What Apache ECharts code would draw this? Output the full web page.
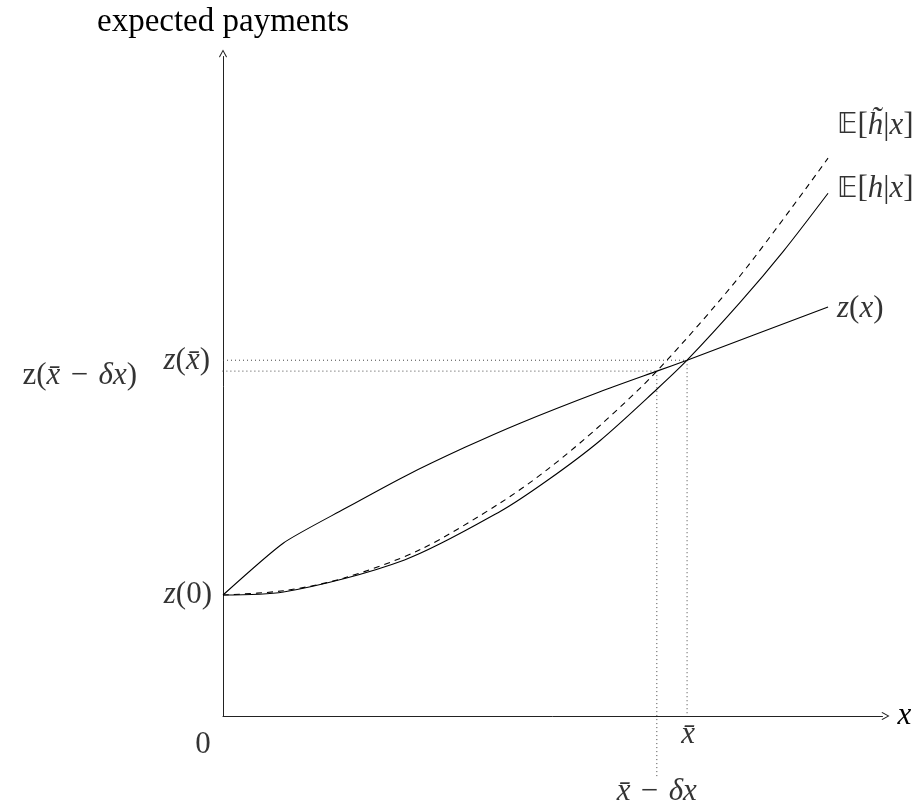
<!DOCTYPE html>
<html>
<head>
<meta charset="utf-8">
<script src="https://cdn.jsdelivr.net/npm/echarts@6/dist/echarts.min.js"></script>
<style>
  html, body { margin: 0; padding: 0; background: #fff; }
  #chart { width: 922px; height: 812px; }
</style>
</head>
<body>
<div id="chart"></div>
<script>
// Curves, sampled at the x positions listed with each one
const zX = [0, 1, 2, 3, 4, 4.91, 6.23, 7.17, 7.67, 10];
const zY = [2.0, 2.86, 3.42, 3.96, 4.44, 4.84, 5.36, 5.70, 5.88, 6.76];
const hX = [0, 1, 3, 4.58, 5.37, 6.23, 7.17, 7.67, 8.55, 9.26, 10];
const hY = [2.0, 2.05, 2.58, 3.38, 3.90, 4.55, 5.40, 5.88, 6.84, 7.68, 8.64];
const hTildeX = [0, 1, 2, 3.26, 4.58, 5.37, 6.23, 7.17, 8.55, 10];
const hTildeY = [2.0, 2.07, 2.28, 2.75, 3.52, 4.08, 4.80, 5.70, 7.28, 9.22];

// Marked points: z(0), the crossing at x-bar, and the crossing at x-bar - delta x
const zAtZero = 2.0;
const xBar = 7.67, zBar = 5.88;
const xBarDelta = 7.17, zBarDelta = 5.70;

// Extents of the dotted guide lines beyond the axes
const guideLeft = -1.2;
const guideBottom = -1.0;

const FONT = '"Liberation Serif", "DejaVu Serif", serif';
const FS = 31;
const OL = '\u0304'; // combining bar over x
const XB = 'x' + OL;
const MINUS = '\u2004\u2212\u2004';

const pairs = (xs, ys) => xs.map((x, i) => [x, ys[i]]);

const richStyles = {
  i: { fontFamily: FONT, fontStyle: 'italic', fontSize: FS, color: '#000' },
  r: { fontFamily: FONT, fontSize: FS, color: '#000' },
  bb: { fontFamily: '"DejaVu Sans", "DejaVu Serif", serif', fontSize: FS - 3, color: '#000' }
};

function txt(point, text, align, offset) {
  return {
    value: point,
    label: {
      show: true,
      position: 'inside',
      align: align,
      verticalAlign: 'middle',
      offset: offset,
      formatter: text,
      rich: richStyles,
      fontFamily: FONT,
      fontSize: FS,
      color: '#000'
    }
  };
}

const lastOf = (xs, ys) => [xs[xs.length - 1], ys[ys.length - 1]];

const labelData = [
  txt([0, 0], '{r|0}', 'center', [-20, 29]),
  txt([xBar, 0], '{i|' + XB + '}', 'center', [1, 19]),
  txt([xBarDelta, 0], '{i|' + XB + '}{r|' + MINUS + '}{i|\u03b4x}', 'center', [0, 76]),
  txt([0, zAtZero], '{i|z}{r|(0)}', 'right', [-11, 0]),
  txt([0, zBar], '{i|z}{r|(}{i|' + XB + '}{r|)}', 'right', [-13, 1]),
  txt([0, zBarDelta], '{r|z(}{i|' + XB + '}{r|' + MINUS + '}{i|\u03b4x}{r|)}', 'right', [-86, 5]),
  txt(lastOf(zX, zY), '{i|z}{r|(}{i|x}{r|)}', 'left', [9, 2]),
  txt(lastOf(hX, hY), '{bb|\uD835\uDD3C}{r|[}{i|h}{r||}{i|x}{r|]}', 'left', [9, -4]),
  txt(lastOf(hTildeX, hTildeY), '{bb|\uD835\uDD3C}{r|[}{i|h\u0303}{r||}{i|x}{r|]}', 'left', [9, -32])
];

const dotted = { color: '#444', width: 1, type: [1, 3] };

function guide(points) {
  return {
    type: 'line',
    data: points,
    symbol: 'none',
    clip: false,
    silent: true,
    lineStyle: dotted,
    z: 1
  };
}

const arrowPath = 'path://M5,0 L10,9 L9,10 L5,2.4 L1,10 L0,9 Z';

const axisCommon = {
  type: 'value',
  min: 0,
  max: 10.9,
  axisTick: { show: false },
  axisLabel: { show: false },
  splitLine: { show: false },
  axisLine: {
    show: true,
    onZero: false,
    symbol: ['none', arrowPath],
    symbolSize: [8, 9],
    symbolOffset: [0, 3],
    lineStyle: { color: '#222', width: 1 }
  }
};

const option = {
  animation: false,
  backgroundColor: '#fff',
  grid: { left: 223, right: 922 - 882.5, top: 56.5, bottom: 96 },
  xAxis: Object.assign({}, axisCommon, {
    name: 'x',
    nameLocation: 'end',
    nameGap: 15,
    nameTextStyle: {
      fontFamily: FONT, fontStyle: 'italic', fontSize: FS, color: '#000',
      align: 'left', verticalAlign: 'middle', padding: [0, 0, 4, 0]
    }
  }),
  yAxis: Object.assign({}, axisCommon, {
    name: 'expected payments',
    nameLocation: 'end',
    nameGap: 34,
    nameTextStyle: {
      fontFamily: FONT, fontSize: FS + 2, color: '#000',
      align: 'center', verticalAlign: 'middle'
    }
  }),
  series: [
    guide([[0, zBar], [xBar, zBar]]),
    guide([[guideLeft, zBarDelta], [xBarDelta, zBarDelta]]),
    guide([[xBar, zBar], [xBar, 0]]),
    guide([[xBarDelta, zBarDelta], [xBarDelta, guideBottom]]),
    {
      name: 'z(x)',
      type: 'line',
      data: pairs(zX, zY),
      symbol: 'none',
      smooth: 0.2,
      lineStyle: { color: '#000', width: 1.1 },
      z: 3
    },
    {
      name: 'E[h|x]',
      type: 'line',
      data: pairs(hX, hY),
      symbol: 'none',
      smooth: 0.3,
      lineStyle: { color: '#000', width: 1.1 },
      z: 3
    },
    {
      name: 'E[h~|x]',
      type: 'line',
      data: pairs(hTildeX, hTildeY),
      symbol: 'none',
      smooth: 0.3,
      lineStyle: { color: '#000', width: 1.1, type: [6, 5] },
      z: 3
    },
    {
      type: 'scatter',
      data: labelData,
      symbolSize: 0,
      silent: true,
      clip: false,
      z: 5
    }
  ]
};

const chart = echarts.init(document.getElementById('chart'), null, { renderer: 'canvas' });
chart.setOption(option);
</script>
</body>
</html>
